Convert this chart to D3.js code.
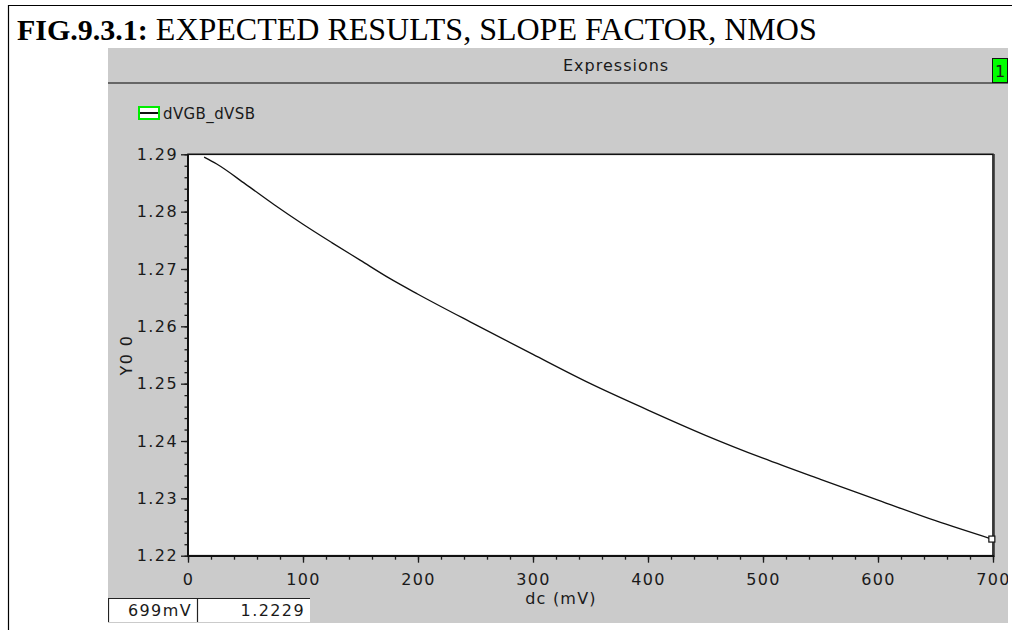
<!doctype html>
<html lang="en">
  <head>
    <meta charset="utf-8">
    <title>FIG.9.3.1</title>
    <style>
        body { margin: 0; background: #fff; }
        svg { display: block; }
        .ui { font-family: "DejaVu Sans", sans-serif; fill: #1a1a1a; }
        .tick text { font-family: "DejaVu Sans", sans-serif; font-size: 16px; letter-spacing: 1.4px; fill: #1a1a1a; }
        .tick line { stroke: #1a1a1a; stroke-width: 1.3px; }
        .domain { stroke: none; }
    </style>
  </head>
  <body>
    <svg width="1012" height="630"></svg>
    <script src="https://d3js.org/d3.v7.min.js"></script>
    <script>
        // sweep of dc (mV) and the slope factor
        var dcValues = [14, 25, 50, 75, 100, 125, 150, 175, 200, 250, 300, 350, 400, 450, 500, 550, 600, 650, 699];
        var slopeValues = [1.2895, 1.2883, 1.2848, 1.2812, 1.2778, 1.2746, 1.2715, 1.2684, 1.2656, 1.2603,
                           1.2551, 1.2500, 1.2454, 1.2410, 1.2370, 1.2333, 1.2297, 1.2261, 1.2229];
        var xTicks = [0, 100, 200, 300, 400, 500, 600, 700];
        var yTicks = [1.22, 1.23, 1.24, 1.25, 1.26, 1.27, 1.28, 1.29];
        var seriesName = "dVGB_dVSB";
        var cursorX = "699mV", cursorY = "1.2229";

        var data = dcValues.map((d, i) => ({x: d, y: slopeValues[i]}));

        var svg = d3.select("svg");

        // page frame + title
        svg.append("path").attr("d", "M8.5,630V5.5H1012").attr("fill", "none").attr("stroke", "#000").attr("stroke-width", 1.2);
        var title = svg.append("text").attr("x", 17).attr("y", 40)
            .style("font-family", "'Liberation Serif', serif").style("font-size", "30px").style("fill", "#000");
        title.append("tspan").style("font-weight", "bold").text("FIG.9.3.1:");
        title.append("tspan").style("font-size", "32px").text(" EXPECTED RESULTS, SLOPE FACTOR, NMOS");

        // grey window
        svg.append("clipPath").attr("id", "win").append("rect")
            .attr("x", 108).attr("y", 48).attr("width", 900).attr("height", 575);
        var win = svg.append("g").attr("clip-path", "url(#win)");
        win.append("rect").attr("x", 108).attr("y", 48).attr("width", 900).attr("height", 575).attr("fill", "#cbcbcb");
        win.append("line").attr("x1", 108).attr("x2", 1008).attr("y1", 83).attr("y2", 83)
            .attr("stroke", "#444").attr("stroke-width", 1.5);
        win.append("text").attr("class", "ui").attr("x", 563).attr("y", 71)
            .style("font-size", "16px").style("letter-spacing", "1px").text("Expressions");

        win.append("rect").attr("x", 992.5).attr("y", 58.5).attr("width", 15).attr("height", 24)
            .attr("fill", "#00ff00").attr("stroke", "#111");
        win.append("text").attr("class", "ui").attr("x", 1000).attr("y", 77)
            .style("font-size", "16px").style("text-anchor", "middle").text("1");

        // legend
        win.append("rect").attr("x", 139).attr("y", 107).attr("width", 20).attr("height", 12)
            .attr("fill", "#fff").attr("stroke", "#00ee00").attr("stroke-width", 2);
        win.append("line").attr("x1", 140).attr("x2", 158).attr("y1", 113).attr("y2", 113)
            .attr("stroke", "#111").attr("stroke-width", 2);
        win.append("text").attr("class", "ui").attr("x", 163).attr("y", 119)
            .style("font-size", "15px").style("letter-spacing", "0.4px").text(seriesName);

        // scales
        var x = d3.scaleLinear().domain([0, 700]).range([188, 993]);
        var y = d3.scaleLinear().domain([1.22, 1.29]).range([555.7, 154.3]);

        win.append("rect").attr("x", 188).attr("y", 154.3).attr("width", 805).attr("height", 401.4)
            .attr("fill", "#fff").attr("stroke", "#111").attr("stroke-width", 1.6);
        win.append("line").attr("x1", 994.5).attr("x2", 994.5).attr("y1", 154).attr("y2", 557)
            .attr("stroke", "#555").attr("stroke-width", 1);

        // minor ticks
        win.append("g").attr("transform", "translate(188,0)")
            .call(d3.axisLeft(y).ticks(35).tickSize(3.5).tickFormat(""));
        win.append("g").attr("transform", "translate(0,555.7)")
            .call(d3.axisBottom(x).ticks(35).tickSize(4).tickFormat(""));

        // major ticks
        win.append("g").attr("transform", "translate(188,0)")
            .call(d3.axisLeft(y).tickValues(yTicks).tickSize(7).tickPadding(3).tickFormat(d3.format(".2f")));
        win.append("g").attr("transform", "translate(0,555.7)")
            .call(d3.axisBottom(x).tickValues(xTicks).tickSize(7).tickPadding(11).tickFormat(d3.format("d")));

        win.append("line").attr("x1", 188).attr("x2", 188).attr("y1", 154).attr("y2", 556)
            .attr("stroke", "#111").attr("stroke-width", 2);
        win.append("line").attr("x1", 187).attr("x2", 994).attr("y1", 556).attr("y2", 556)
            .attr("stroke", "#111").attr("stroke-width", 2);

        // axis titles
        win.append("text").attr("class", "ui").attr("transform", "translate(132,355) rotate(-90)")
            .style("font-size", "16px").style("letter-spacing", "1.4px").style("text-anchor", "middle").text("Y0 0");
        win.append("text").attr("class", "ui").attr("x", 561).attr("y", 604)
            .style("font-size", "16px").style("letter-spacing", "1.2px").style("text-anchor", "middle").text("dc (mV)");

        // curve
        var line = d3.line().x(d => x(d.x)).y(d => y(d.y)).curve(d3.curveMonotoneX);
        win.append("path").datum(data).attr("d", line)
            .attr("fill", "none").attr("stroke", "#111").attr("stroke-width", 1.3);
        var last = data[data.length - 1];
        win.append("rect").attr("x", x(last.x) - 3).attr("y", y(last.y) - 3).attr("width", 6).attr("height", 6)
            .attr("fill", "#fff").attr("stroke", "#111").attr("stroke-width", 1.2);

        // cursor readout boxes
        var boxes = [{x0: 108, x1: 197, t: cursorX}, {x0: 197, x1: 310, t: cursorY}];
        boxes.forEach(b => {
            win.append("rect").attr("x", b.x0).attr("y", 598).attr("width", b.x1 - b.x0).attr("height", 24).attr("fill", "#fff");
            win.append("path").attr("d", "M" + (b.x0 + 0.5) + ",622V598.5H" + b.x1)
                .attr("fill", "none").attr("stroke", "#222").attr("stroke-width", 1.2);
            win.append("text").attr("class", "ui").attr("x", b.x1 - 5).attr("y", 616)
                .style("font-size", "16px").style("letter-spacing", "1.4px").style("text-anchor", "end").text(b.t);
        });
    </script>
  </body>
</html>
